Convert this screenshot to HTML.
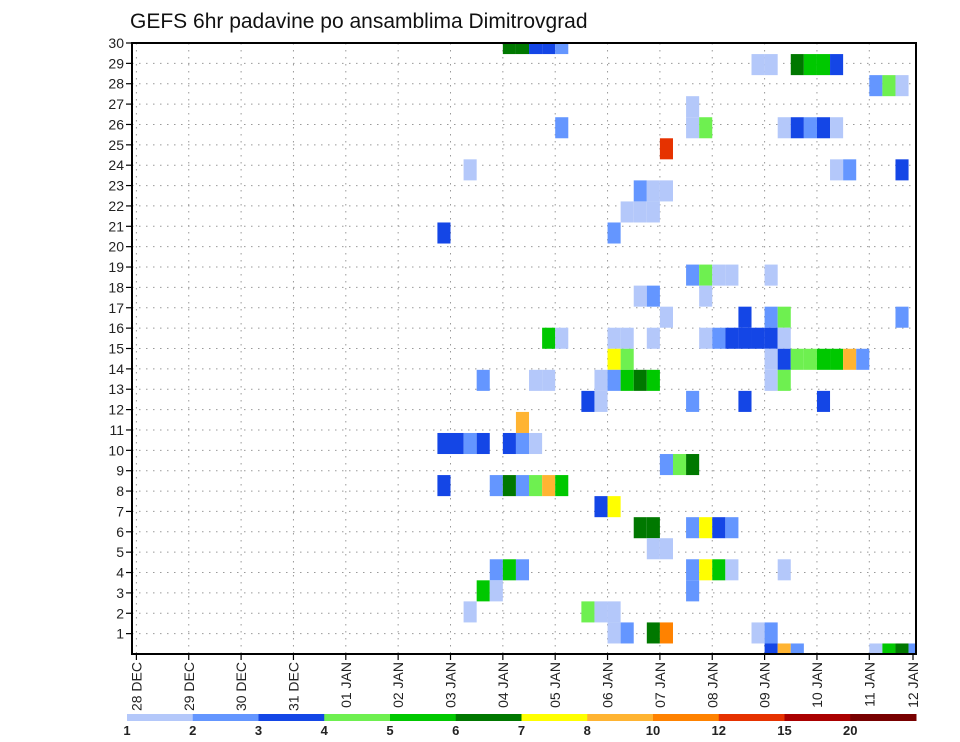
<!DOCTYPE html>
<html><head><meta charset="utf-8"><style>
html,body{margin:0;padding:0;background:#fff;}
svg{display:block;font-family:"Liberation Sans",sans-serif;}
</style></head><body>
<svg id="chart" width="960" height="742" viewBox="0 0 960 742" xmlns="http://www.w3.org/2000/svg">
<text x="130" y="28" font-size="21" fill="#111">GEFS 6hr padavine po ansamblima Dimitrovgrad</text>
<g id="grid"></g>
<g id="cells"></g>
<rect x="132" y="43" width="784" height="611" fill="none" stroke="#000" stroke-width="2"/>
<g id="yaxis"></g>
<g id="xaxis"></g>
<g id="cbar"></g>
</svg>
<script>
// data: column = 6-hour step from 28 DEC 00Z, row = ensemble member, lvl = colour class
const cellCols = [28,29,30,31,32, 32, 40, 25, 38,39,40, 37,38,39, 23,36, 38,39,
 47,48,50,51,52,53, 56,57,58, 42,42,43, 49,50,51,52,53, 53,54,58, 42,43,44,45,48, 43,
 40,46,48,49,58, 43,44,45,46,47,48,49, 48,49,50,51,52,53,54,55, 48,49, 42,46,52, 41,42,
 31,32,36,37,39, 36,37, 26,30,31,35,36,37,38,39, 34,35, 29, 23,24,25,26,28,29,30, 40,
 23,27,28,29,30,31,32, 35,36, 38,39, 39,40, 27,28,29, 26,27, 25,34,35,36, 36,37,39,40,
 42,43,44,45, 42,43,44,45,49, 42, 47,48, 48,49,50,56,57,58,59];
const cellRows = [29,29,29,29,29, 25, 24, 23, 22,22,22, 21,21,21, 20,20, 17,17,
 28,28,28,28,28,28, 27,27,27, 26,25,25, 25,25,25,25,25, 23,23,23, 18,18,18,18,18, 17,
 16,16,16,16,16, 15,15,15,15,15,15,15, 14,14,14,14,14,14,14,14, 13,13, 12,12,12, 9,9,
 15,15,15,15,15, 14,14, 13,13,13,13,13,13,13,13, 12,12, 11, 10,10,10,10,10,10,10, 9,
 8,8,8,8,8,8,8, 7,7, 6,6, 5,5, 4,4,4, 3,3, 2,2,2,2, 1,1,1,1,
 6,6,6,6, 4,4,4,4,4, 3, 1,1, 0,0,0,0,0,0,0];
const cellLevels = [5,5,2,2,1, 1, 9, 0, 1,0,0, 0,0,0, 2,1, 0,1,
 0,0,5,4,4,2, 1,3,0, 0,0,3, 0,2,1,2,0, 0,1,2, 1,3,0,0,0, 0,
 0,2,1,3,1, 0,1,2,2,2,2,0, 0,2,3,3,4,4,7,1, 0,3, 1,2,2, 3,5,
 4,0,0,0,0, 6,3, 1,0,0,0,1,4,5,4, 2,0, 7, 2,2,1,2,2,1,0, 1,
 2,1,5,1,3,7,4, 2,6, 5,5, 0,0, 1,4,1, 4,0, 0,3,0,0, 0,1,5,8,
 1,6,2,1, 1,6,4,0,0, 1, 0,1, 2,7,1,0,4,5,1];
const levelColors = ["#b4c8fa","#6496ff","#1446e6","#6ef050","#00c800","#007800","#ffff00","#ffb432","#ff8200","#e63200","#aa0000","#780000"];
const levelLabels = ["1","2","3","4","5","6","7","8","10","12","15","20"];
const yTicks = [1,2,3,4,5,6,7,8,9,10,11,12,13,14,15,16,17,18,19,20,21,22,23,24,25,26,27,28,29,30];
const xTickLabels = ["28 DEC","29 DEC","30 DEC","31 DEC","01 JAN","02 JAN","03 JAN","04 JAN","05 JAN","06 JAN","07 JAN","08 JAN","09 JAN","10 JAN","11 JAN","12 JAN"];

const NS="http://www.w3.org/2000/svg";
const L=132,R=916,T=43,B=654;
const X0=136.4, DAY=52.35, CW=DAY/4, RH=21.05;
function xCol(c){return X0+c*CW;}
function yRowTop(r){return B-RH*(r+0.5);}
function yTick(n){return T+(30-n)*(B-T)/30;}
function xDay(i){return Math.min(X0+i*DAY,913);}
function mk(tag,attrs,parent){const e=document.createElementNS(NS,tag);for(const k in attrs)e.setAttribute(k,attrs[k]);parent.appendChild(e);return e;}

const grid=document.getElementById('grid');
yTicks.forEach(n=>{ if(n<30){
  const ln=mk('line',{x1:L,x2:R,y1:yTick(n),y2:yTick(n),stroke:'#999','stroke-width':1,'stroke-dasharray':'1.5 5.5'},grid);
  
  
}});
xTickLabels.forEach((s,i)=>{ if(i<15){
  const ln=mk('line',{x1:xDay(i),x2:xDay(i),y1:T,y2:B,stroke:'#999','stroke-width':1,'stroke-dasharray':'1.5 5.5'},grid);
  
  
}});

const cells=document.getElementById('cells');
for(let i=0;i<cellCols.length;i++){
  let x1=xCol(cellCols[i]), x2=xCol(cellCols[i]+1);
  let y1=yRowTop(cellRows[i]), y2=y1+RH;
  x1=Math.max(x1,L); x2=Math.min(x2,R); y1=Math.max(y1,T); y2=Math.min(y2,B);
  const r=mk('rect',{x:x1,y:y1,width:x2-x1,height:y2-y1,fill:levelColors[cellLevels[i]]},cells);
  
  
}

const ya=document.getElementById('yaxis');
yTicks.forEach(n=>{
  const y=yTick(n);
  const t=mk('line',{x1:L-6,x2:L,y1:y,y2:y,stroke:'#000','stroke-width':1.2},ya);
  
  
  const tx=mk('text',{x:L-8,y:y+5,'font-size':14,'text-anchor':'end',fill:'#222'},ya);
  tx.textContent=n;
  
  
});
const xa=document.getElementById('xaxis');
xTickLabels.forEach((s,i)=>{
  const x=xDay(i);
  const t=mk('line',{x1:x,x2:x,y1:B,y2:B+6,stroke:'#000','stroke-width':1.2},xa);
  
  
  const tx=mk('text',{x:0,y:0,'font-size':14,'text-anchor':'end',fill:'#222',transform:`translate(${x+5},${B+8}) rotate(-90)`},xa);
  tx.textContent=s;
  
  
});

const cb=document.getElementById('cbar');
const CB0=127, CBW=(916-127)/12;
levelColors.forEach((c,i)=>{
  const r=mk('rect',{x:CB0+i*CBW,y:714,width:CBW+0.5,height:7,fill:c},cb);
  
  
});
levelLabels.forEach((s,i)=>{
  const tx=mk('text',{x:CB0+i*CBW,y:735,'font-size':13,'font-weight':'bold','text-anchor':'middle',fill:'#222'},cb);
  tx.textContent=s;
  
  
});
</script>
</body></html>
